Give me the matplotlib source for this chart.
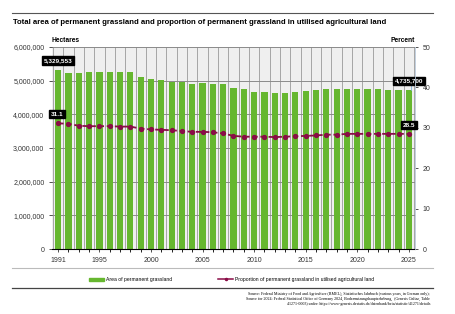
import matplotlib.pyplot as plt
import numpy as np

plt.rcParams['font.family'] = ['DejaVu Sans Condensed', 'Liberation Sans Narrow', 'Liberation Sans', 'DejaVu Sans']

years = list(range(1991, 2026))
area = [5329553, 5240000, 5240000, 5260000, 5270000, 5260000, 5260000, 5260000,
        5120000, 5050000, 5010000, 4970000, 4970000, 4910000, 4920000, 4900000,
        4890000, 4790000, 4740000, 4660000, 4650000, 4640000, 4640000, 4660000,
        4690000, 4720000, 4740000, 4740000, 4760000, 4750000, 4750000, 4750000,
        4720000, 4730000, 4735700]
share = [31.1, 31.0, 30.5, 30.4, 30.4, 30.4, 30.3, 30.3, 29.8, 29.6, 29.5, 29.4,
         29.2, 29.0, 29.0, 28.9, 28.6, 28.0, 27.8, 27.8, 27.8, 27.7, 27.8, 27.9,
         28.0, 28.1, 28.3, 28.3, 28.5, 28.5, 28.5, 28.5, 28.5, 28.5, 28.5]
xtick_years = [1991, 1995, 2000, 2005, 2010, 2015, 2020, 2025]

green = '#66b72f'
maroon = '#8a0c46'

W, H = 455, 314
fig = plt.figure(figsize=(W / 100, H / 100), dpi=100)

def fx(px):
    return px / W

def fy(py):
    return 1 - py / H

ax = fig.add_axes([fx(52), fy(249), fx(415) - fx(52), fy(47) - fy(249)])
ax.set_facecolor('#efefef')
ax.set_xlim(1990.4, 2025.6)
ax.set_ylim(0, 6000000)

# vertical band lines and horizontal grid
for x in np.arange(1990.5, 2026, 1):
    ax.axvline(x, color='#a5a5a5', lw=0.7, zorder=0)
for y in range(1000000, 6000001, 1000000):
    ax.axhline(y, color='#8a8a8a', lw=0.7, zorder=0.5)

ax.bar(years, area, width=0.6, color=green, zorder=2)

ax.set_yticks(range(0, 6000001, 1000000))
ax.set_yticklabels([f'{v:,}' for v in range(0, 6000001, 1000000)])
ax.set_xticks(xtick_years)
ax.set_xticks(years, minor=True)
ax.tick_params(axis='both', labelsize=5, length=2, width=0.6, colors='#333333')
ax.tick_params(axis='x', which='minor', length=2, width=0.6)
for s in ['top', 'left', 'right']:
    ax.spines[s].set_visible(False)
ax.spines['bottom'].set_linewidth(0.8)

ax2 = ax.twinx()
ax2.set_ylim(0, 50)
ax2.set_yticks(range(0, 51, 10))
ax2.tick_params(axis='y', labelsize=5, length=2, width=0.6, colors='#333333')
for s in ['top', 'left', 'bottom']:
    ax2.spines[s].set_visible(False)
ax2.spines['right'].set_color('#b8c8d8')
ax2.spines['right'].set_linewidth(0.6)
ax2.plot(years, share, color=maroon, lw=1.3, ls=(0, (3, 1.5)), marker='o',
         markersize=2.8, zorder=3)

# value labels
box = dict(boxstyle='square,pad=0.25', fc='black', ec='black')
ax.text(1991, 5600000, f'{area[0]:,}', color='white', fontsize=4.6, fontweight='bold',
        ha='center', va='center', bbox=box, zorder=5)
ax.text(2025, 5000000, f'{area[-1]:,}', color='white', fontsize=4.6, fontweight='bold',
        ha='center', va='center', bbox=box, zorder=5)
ax.plot([2025.2, 2025.2], [area[-1], 4900000], color='#7fb0d8', lw=0.6, zorder=4)
ax2.text(1990.85, 33.4, f'{share[0]}', color='white', fontsize=4.6, fontweight='bold',
         ha='center', va='center', bbox=box, zorder=5)
ax2.text(2025, 30.6, f'{share[-1]}', color='white', fontsize=4.6, fontweight='bold',
         ha='center', va='center', bbox=box, zorder=5)

# texts
fig.add_artist(plt.Line2D([fx(12), fx(433)], [fy(13), fy(13)], color='#555555', lw=0.8))
title = fig.text(fx(13), fy(22), 'Total area of permanent grassland and proportion of permanent grassland in utilised agricultural land',
                 fontsize=6.3, fontweight='bold', va='center', ha='left')
# shrink title to the width it has in the reference
renderer = fig.canvas.get_renderer()
tw = title.get_window_extent(renderer).width
if tw > 376:
    title.set_fontsize(6.3 * 376 / tw)

fig.text(fx(52), fy(40), 'Hectares', fontsize=4.8, fontweight='bold', va='center', ha='left')
fig.text(fx(415), fy(40), 'Percent', fontsize=4.8, fontweight='bold', va='center', ha='right')

fig.add_artist(plt.Line2D([fx(12), fx(433)], [fy(268), fy(268)], color='#bbbbbb', lw=0.8))
fig.add_artist(plt.Line2D([fx(12), fx(433)], [fy(288), fy(288)], color='#444444', lw=0.9))

# legend
fig.add_artist(plt.Rectangle((fx(89), fy(280.5)), fx(15), fy(278) - fy(280.5), color=green))
fig.text(fx(106), fy(279), 'Area of permanent grassland', fontsize=3.6, va='center', ha='left')
fig.add_artist(plt.Line2D([fx(218), fx(233)], [fy(279), fy(279)], color=maroon, lw=1.1))
fig.add_artist(plt.Line2D([fx(225.5)], [fy(279)], color=maroon, marker='o', markersize=1.5))
fig.text(fx(235), fy(279), 'Proportion of permanent grassland in utilised agricultural land',
         fontsize=3.6, va='center', ha='left')

src = ('Source: Federal Ministry of Food and Agriculture (BMEL), Statistisches Jahrbuch (various years, in German only);\n'
       'Source for 2024: Federal Statistical Office of Germany 2024, Bodennutzungshaupterhebung,  (Genesis Online, Table\n'
       '41271-0003) under: https://www-genesis.destatis.de/datenbank/beta/statistic/41271/details')
fig.text(fx(430), fy(292), src, fontsize=2.9, va='top', ha='right', multialignment='right',
         family=['Liberation Serif', 'DejaVu Serif'], linespacing=1.3)

fig.savefig('out.png', dpi=100, facecolor='white')
